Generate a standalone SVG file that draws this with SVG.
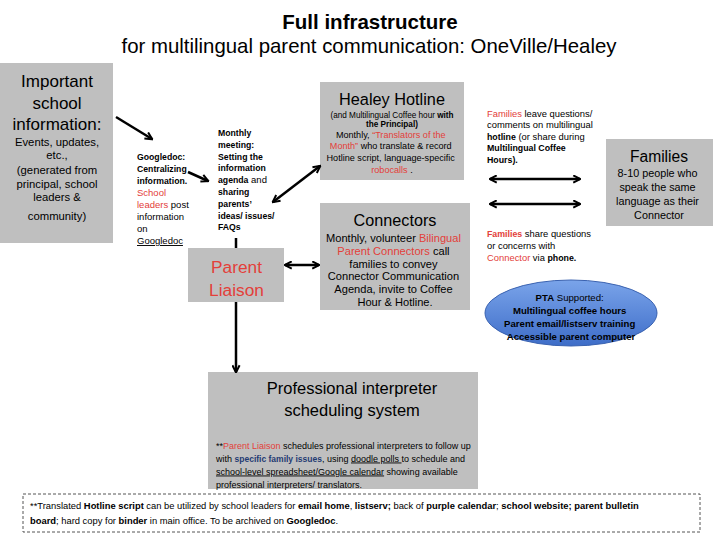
<svg xmlns="http://www.w3.org/2000/svg" width="720" height="540" viewBox="0 0 720 540">
<style>
text{font-family:"Liberation Sans",Arial,sans-serif;fill:#000}
.box{fill:#bfbfbf}
.c{text-anchor:middle}
.b{font-weight:bold}
.r{fill:#e3403a}
.u{text-decoration:underline}
.blue{fill:#1f3b73;font-weight:bold}
.ln{stroke:#000;stroke-width:2.5;fill:none}
</style>
<defs>
<marker id="ah" viewBox="0 0 10 10" refX="8.5" refY="5" markerWidth="9" markerHeight="9" markerUnits="userSpaceOnUse" orient="auto-start-reverse">
<path d="M1,1 L9,5 L1,9" fill="none" stroke="#000" stroke-width="2.2"/>
</marker>
<linearGradient id="pg" x1="0" y1="0" x2="0" y2="1">
<stop offset="0" stop-color="#7aa4ea"/>
<stop offset="1" stop-color="#3e6dc8"/>
</linearGradient>
</defs>

<g id="title">
<text class="c b" x="370" y="29" font-size="20.5">Full infrastructure</text>
<text class="c" x="369" y="53" font-size="20.4">for multilingual parent communication: OneVille/Healey</text>
</g>

<g id="school-info">
<rect class="box" x="0" y="63" width="113" height="180"/>
<text class="c" x="57" font-size="17"><tspan x="57" y="87">Important</tspan><tspan x="57" y="109">school</tspan><tspan x="57" y="130">information:</tspan></text>
<text class="c" x="57" font-size="11.3"><tspan x="57" y="146">Events, updates,</tspan><tspan x="57" y="159">etc.,</tspan><tspan x="57" y="174">(generated from</tspan><tspan x="57" y="188">principal, school</tspan><tspan x="57" y="201">leaders &amp;</tspan><tspan x="57" y="220">community)</tspan></text>
</g>

<g id="googledoc">
<text font-size="9.5">
<tspan x="137" y="160" class="b" font-size="8.7">Googledoc:</tspan>
<tspan x="137" y="172" class="b" font-size="8.7">Centralizing</tspan>
<tspan x="137" y="184" class="b" font-size="8.7">information.</tspan>
<tspan x="137" y="196" class="r">School</tspan>
<tspan x="137" y="208"><tspan class="r">leaders</tspan> post</tspan>
<tspan x="137" y="220">information</tspan>
<tspan x="137" y="232">on</tspan>
<tspan x="137" y="244" class="u">Googledoc</tspan>
</text>
</g>

<g id="monthly-meeting">
<text font-size="8.7" class="b">
<tspan x="218" y="136">Monthly</tspan>
<tspan x="218" y="147.8">meeting:</tspan>
<tspan x="218" y="159.6">Setting the</tspan>
<tspan x="218" y="171.4">information</tspan>
<tspan x="218" y="183.2">agenda<tspan font-weight="normal" font-size="9.5"> and</tspan></tspan>
<tspan x="218" y="195">sharing</tspan>
<tspan x="218" y="206.8">parents’</tspan>
<tspan x="218" y="218.6">ideas/ issues/</tspan>
<tspan x="218" y="230.4">FAQs</tspan>
</text>
</g>

<g id="healey-hotline">
<rect class="box" x="320" y="82" width="144" height="98"/>
<text class="c" x="392" y="105" font-size="16.3">Healey Hotline</text>
<text class="c" font-size="8.2"><tspan x="392" y="118">(and Multilingual Coffee hour <tspan class="b">with</tspan></tspan><tspan x="392" y="126.5" class="b">the Principal)</tspan></text>
<text class="c" font-size="9.1">
<tspan x="392" y="137.5">Monthly, <tspan class="r">“Translators of the</tspan></tspan>
<tspan x="392" y="149.2"><tspan class="r">Month”</tspan> who translate &amp; record</tspan>
<tspan x="392" y="160.9">Hotline script, language-specific</tspan>
<tspan x="392" y="172.6"><tspan class="r">robocalls</tspan> .</tspan>
</text>
</g>

<g id="connectors">
<rect class="box" x="320" y="203" width="150" height="107"/>
<text class="c" x="395" y="226" font-size="16.2">Connectors</text>
<text class="c" font-size="11.1">
<tspan x="395" y="242">Monthly, volunteer <tspan class="r">Bilingual</tspan></tspan>
<tspan x="395" y="254.8"><tspan class="r">Parent  Connectors</tspan> call</tspan>
<tspan x="395" y="267.6">families to convey</tspan>
<tspan x="395" y="280.4">Connector Communication</tspan>
<tspan x="395" y="293.2">Agenda, invite to Coffee</tspan>
<tspan x="395" y="306">Hour &amp; Hotline.</tspan>
</text>
</g>

<g id="families-hotline-note">
<text font-size="9.4">
<tspan x="487" y="116.5"><tspan class="r">Families</tspan> leave questions/</tspan>
<tspan x="487" y="128.1">comments on multilingual</tspan>
<tspan x="487" y="139.7"><tspan class="b" font-size="8.8">hotline</tspan> (or share during</tspan>
<tspan x="487" y="151.3" class="b" font-size="8.8">Multilingual Coffee</tspan>
<tspan x="487" y="162.9" class="b" font-size="8.8">Hours).</tspan>
</text>
</g>

<g id="families-phone-note">
<text font-size="9.4">
<tspan x="487" y="236.5"><tspan class="r b" font-size="8.8">Families</tspan> share questions</tspan>
<tspan x="487" y="248.5">or concerns with</tspan>
<tspan x="487" y="260.5"><tspan class="r">Connector</tspan> via <tspan class="b" font-size="8.8">phone.</tspan></tspan>
</text>
</g>

<g id="families">
<rect class="box" x="606" y="139" width="107" height="87"/>
<text class="c" x="659" y="162" font-size="15.6">Families</text>
<text class="c" font-size="10.8">
<tspan x="659" y="177">8-10 people who</tspan>
<tspan x="659" y="191">speak the same</tspan>
<tspan x="659" y="205">language as their</tspan>
<tspan x="659" y="219">Connector</tspan>
</text>
</g>

<g id="pta">
<ellipse cx="571" cy="313" rx="86" ry="33" fill="url(#pg)" stroke="#3a62b0" stroke-width="1"/>
<text class="c" font-size="9.6">
<tspan x="571" y="300.5"><tspan class="b">PTA</tspan> Supported:</tspan>
<tspan x="571" y="313.7" class="b">Multilingual coffee hours</tspan>
<tspan x="571" y="326.9" class="b">Parent email/listserv training</tspan>
<tspan x="571" y="340.1" class="b">Accessible parent computer</tspan>
</text>
</g>

<g id="parent-liaison">
<rect class="box" x="188" y="248" width="96" height="54"/>
<text class="c r" font-size="17.3"><tspan x="236.5" y="273">Parent</tspan><tspan x="236.5" y="296">Liaison</tspan></text>
</g>

<g id="interpreter-system">
<rect class="box" x="208" y="372" width="270" height="117"/>
<text class="c" font-size="16.5"><tspan x="352" y="394">Professional interpreter</tspan><tspan x="352" y="416">scheduling system</tspan></text>
<text font-size="9">
<tspan x="216" y="448.5">**<tspan class="r">Parent Liaison</tspan> schedules professional interpreters to follow up</tspan>
<tspan x="216" y="461.5">with <tspan class="blue" font-size="8.5">specific family issues</tspan>, using <tspan class="u">doodle polls </tspan>to schedule and</tspan>
<tspan x="216" y="474.5"><tspan class="u">school-level spreadsheet/Google calendar</tspan> showing available</tspan>
<tspan x="216" y="487.5">professional interpreters/ translators.</tspan>
</text>
</g>

<g id="footer-note">
<rect x="23" y="494" width="677" height="38" fill="none" stroke="#555" stroke-width="1" stroke-dasharray="3,2"/>
<text font-size="9.4" x="30" y="509">**Translated <tspan class="b">Hotline script</tspan> can be utilized by school leaders for <tspan class="b">email home</tspan>, <tspan class="b">listserv;</tspan> back of <tspan class="b">purple calendar</tspan>; <tspan class="b">school website; parent bulletin</tspan></text>
<text font-size="9.4" x="30" y="524"><tspan class="b">board</tspan>; hard copy for <tspan class="b">binder</tspan> in main office. To be archived on <tspan class="b">Googledoc</tspan>.</text>
</g>

<g id="connectors-lines">
<line class="ln" x1="116" y1="117" x2="152" y2="139" marker-end="url(#ah)"/>
<line class="ln" x1="188" y1="172" x2="208" y2="181" marker-end="url(#ah)"/>
<line class="ln" x1="273" y1="202" x2="320" y2="166" marker-start="url(#ah)" marker-end="url(#ah)"/>
<line class="ln" x1="236" y1="238" x2="236" y2="248"/>
<line class="ln" x1="285" y1="265" x2="319" y2="265" marker-start="url(#ah)" marker-end="url(#ah)"/>
<line class="ln" x1="236" y1="302" x2="236" y2="372" marker-end="url(#ah)"/>
<line class="ln" x1="490" y1="179" x2="580" y2="179" marker-start="url(#ah)" marker-end="url(#ah)"/>
<line class="ln" x1="490" y1="204" x2="580" y2="204" marker-start="url(#ah)" marker-end="url(#ah)"/>
</g>
</svg>
